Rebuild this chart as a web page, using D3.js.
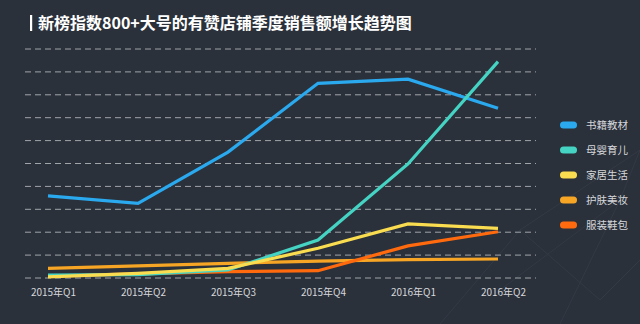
<!DOCTYPE html>
<html><head><meta charset="utf-8">
<script src="https://cdn.jsdelivr.net/npm/d3@7/dist/d3.min.js"></script>
<style>
html,body{margin:0;padding:0;background:#2b313b;}
svg{display:block;}
</style></head>
<body>
<svg id="c" width="640" height="324"></svg>
<script>
const title = "新榜指数800+大号的有赞店铺季度销售额增长趋势图";
const quarters = ["2015年Q1","2015年Q2","2015年Q3","2015年Q4","2016年Q1","2016年Q2"];
const seriesNames = ["书籍教材","母婴育儿","家居生活","护肤美妆","服装鞋包"];
const seriesColors = ["#2aa9ee","#45d3c3","#f9dc4f","#f6a524","#ff6a0e"];
const booksValues = [3.59, 3.26, 5.50, 8.50, 8.68, 7.41];
const babyValues = [0.13, 0.15, 0.35, 1.66, 4.98, 9.45];
const homeValues = [0.05, 0.20, 0.42, 1.30, 2.36, 2.17];
const beautyValues = [0.42, 0.53, 0.64, 0.74, 0.80, 0.83];
const apparelValues = [0.08, 0.18, 0.28, 0.32, 1.40, 2.02];
const gridTicks = [0,1,2,3,4,5,6,7,8,9,10];

const allValues = [booksValues, babyValues, homeValues, beautyValues, apparelValues];
const drawOrder = [0, 3, 4, 1, 2];

const svg = d3.select("#c");

// faint decorative background network
const deco = svg.append("g").attr("stroke","#3a414c").attr("stroke-width",0.8).attr("opacity",0.7);
const decoPts = [[440,324],[520,230],[640,150],[600,300],[560,324],[640,260],[500,290],[620,200]];
[[0,1],[1,2],[1,3],[3,5],[4,7],[6,7],[7,2]].forEach(([a,b])=>{
  deco.append("line").attr("x1",decoPts[a][0]).attr("y1",decoPts[a][1]).attr("x2",decoPts[b][0]).attr("y2",decoPts[b][1]);
});

// title
svg.append("rect").attr("x",30).attr("y",15).attr("width",2.2).attr("height",16).attr("fill","#ffffff");
svg.append("text").attr("x",38).attr("y",29)
  .attr("font-family","'Noto Sans CJK SC', sans-serif").attr("font-weight","bold")
  .attr("font-size",16).attr("fill","#ffffff").text(title);

const x = d3.scalePoint().domain(quarters).range([48, 498]).padding(0);
const y = d3.scaleLinear().domain([0, 10]).range([278, 49]);

// grid
const grid = svg.append("g");
grid.selectAll("line").data(gridTicks).join("line")
  .attr("x1",25).attr("x2",536)
  .attr("y1",d=>y(d)).attr("y2",d=>y(d))
  .attr("stroke","#c9cccf").attr("stroke-width",1)
  .attr("stroke-dasharray","6,4").attr("opacity",0.75);

// x axis labels
const xAxis = d3.axisBottom(x).tickSize(0).tickPadding(0);
const gx = svg.append("g").attr("transform","translate(5,289)").call(xAxis);
gx.select(".domain").remove();
gx.selectAll("text").attr("font-family","'Noto Sans CJK SC', sans-serif")
  .attr("font-size",10).attr("fill","#d6d8db").attr("dy","0.71em");

// lines
const line = d3.line().x((d,i)=>x(quarters[i])).y(d=>y(d));
drawOrder.forEach(k=>{
  svg.append("path").datum(allValues[k])
    .attr("d",line).attr("fill","none")
    .attr("stroke",seriesColors[k]).attr("stroke-width",3.2)
    .attr("stroke-linejoin","miter").attr("stroke-linecap","butt");
});

// legend
const lg = svg.append("g");
seriesNames.forEach((n,i)=>{
  const cy = 125 + i*25;
  lg.append("rect").attr("x",560).attr("y",cy-3.5).attr("width",17).attr("height",7)
    .attr("rx",3.5).attr("fill",seriesColors[i]);
  lg.append("text").attr("x",586).attr("y",cy).attr("dy","0.35em")
    .attr("font-family","'Noto Sans CJK SC', sans-serif").attr("font-size",10.5)
    .attr("fill","#d6d8db").text(n);
});
</script>
</body></html>
